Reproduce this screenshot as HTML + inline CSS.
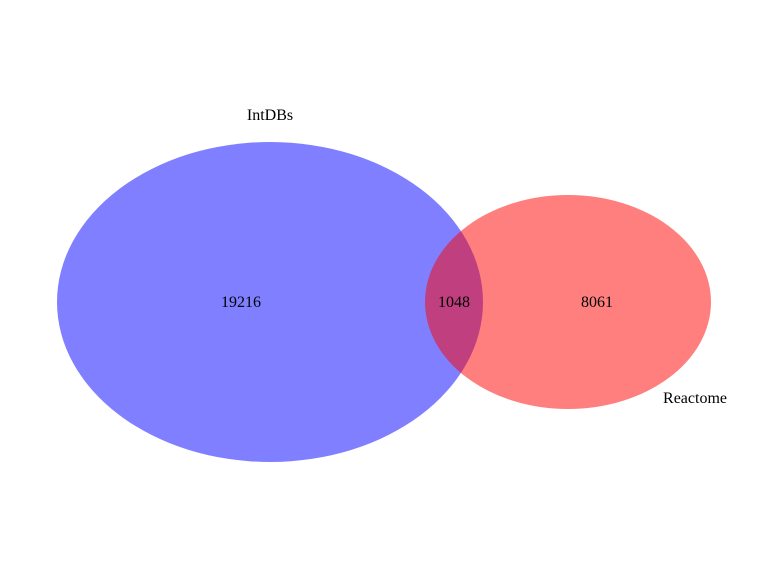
<!DOCTYPE html>
<html>
<head>
<meta charset="utf-8">
<style>
  html, body { margin: 0; padding: 0; background: #fff; }
  svg { display: block; }
  text { font-family: "Liberation Serif", serif; font-size: 16px; fill: #000; }
</style>
</head>
<body>
<svg id="chart" width="768" height="576" viewBox="0 0 768 576" xmlns="http://www.w3.org/2000/svg"></svg>
<script>
const setNames = ["IntDBs", "Reactome"];
const setColors = ["rgba(0,0,255,0.5)", "rgba(255,0,0,0.5)"];
const regionCounts = [19216, 1048, 8061];

const svg = document.getElementById('chart');
const NS = 'http://www.w3.org/2000/svg';

const ellipses = [
  { cx: 270, cy: 302, rx: 213, ry: 160 },
  { cx: 568, cy: 302, rx: 143, ry: 107 }
];
const setLabelPos = [
  { x: 270, y: 120, anchor: 'middle' },
  { x: 695, y: 403, anchor: 'middle' }
];

ellipses.forEach((e, i) => {
  const el = document.createElementNS(NS, 'ellipse');
  el.setAttribute('cx', e.cx);
  el.setAttribute('cy', e.cy);
  el.setAttribute('rx', e.rx);
  el.setAttribute('ry', e.ry);
  el.setAttribute('fill', setColors[i]);
  
  
  svg.appendChild(el);
});

setNames.forEach((n, i) => {
  const t = document.createElementNS(NS, 'text');
  t.setAttribute('x', setLabelPos[i].x);
  t.setAttribute('y', setLabelPos[i].y);
  t.setAttribute('text-anchor', setLabelPos[i].anchor);
  t.textContent = n;
  
  
  svg.appendChild(t);
});

const a = ellipses[0], b = ellipses[1];
const overlapLeft = b.cx - b.rx, overlapRight = a.cx + a.rx;
const regionX = [
  (a.cx - a.rx + overlapLeft) / 2,
  (overlapLeft + overlapRight) / 2,
  (overlapRight + b.cx + b.rx) / 2
];
const regionNames = ['count-intdbs-only', 'count-intersection', 'count-reactome-only'];
regionCounts.forEach((c, i) => {
  const t = document.createElementNS(NS, 'text');
  t.setAttribute('x', regionX[i]);
  t.setAttribute('y', a.cy + 5);
  t.setAttribute('text-anchor', 'middle');
  t.textContent = c;
  
  
  svg.appendChild(t);
});
</script>
</body>
</html>
